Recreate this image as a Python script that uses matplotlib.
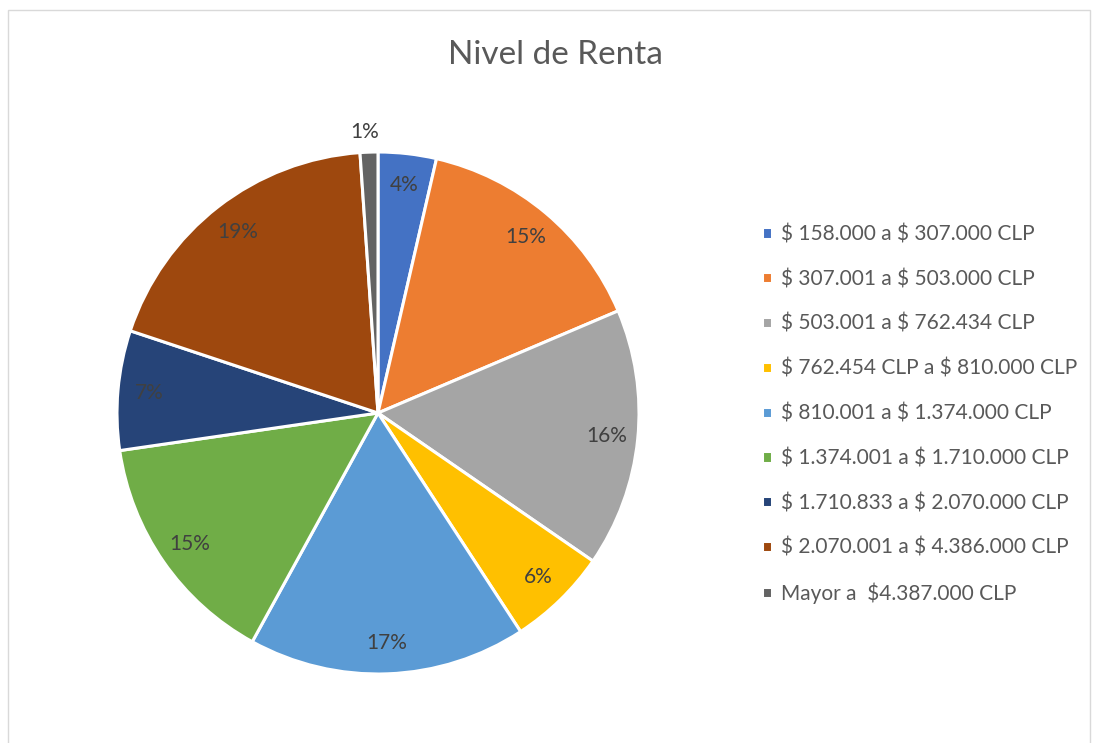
import matplotlib.pyplot as plt
from matplotlib.patches import Rectangle

# Data (percent shares)
categories = [
    "$ 158.000 a $ 307.000 CLP",
    "$ 307.001 a $ 503.000 CLP",
    "$ 503.001 a $ 762.434 CLP",
    "$ 762.454 CLP a $ 810.000 CLP",
    "$ 810.001 a $ 1.374.000 CLP",
    "$ 1.374.001 a $ 1.710.000 CLP",
    "$ 1.710.833 a $ 2.070.000 CLP",
    "$ 2.070.001 a $ 4.386.000 CLP",
    "Mayor a  $4.387.000 CLP",
]
shares = [3.6, 15.0, 16.0, 6.2, 17.2, 14.7, 7.4, 18.8, 1.1]
colors = ["#4472C4", "#ED7D31", "#A5A5A5", "#FFC000", "#5B9BD5",
          "#70AD47", "#264478", "#9E480E", "#636363"]

plt.rcParams['font.family'] = ['Lato', 'DejaVu Sans']
plt.rcParams['text.parse_math'] = False

W, H = 1093, 743
fig = plt.figure(figsize=(W / 100, H / 100), dpi=100)

# chart border
fig.patches.append(Rectangle((8 / W, -0.01), (1090 - 8) / W, (H - 10) / H + 0.01,
                             transform=fig.transFigure, fill=False,
                             edgecolor="#D9D9D9", linewidth=1))

cx, cy, r = 378, 413, 261
ax = fig.add_axes([(cx - r) / W, (H - cy - r) / H, 2 * r / W, 2 * r / H])

wedges, texts, autotexts = ax.pie(
    shares, colors=colors, startangle=90, counterclock=False,
    autopct="%.0f%%", pctdistance=0.88, radius=1,
    wedgeprops=dict(edgecolor="white", linewidth=2.2),
    textprops=dict(color="#404040", fontsize=15))

# smallest slice label sits outside the pie
autotexts[-1].set_position((-0.05, 1.075))

ax.set_xlim(-1, 1)
ax.set_ylim(-1, 1)
ax.set_aspect("equal")
ax.axis("off")

fig.text(555 / W, 1 - 55 / H, "Nivel de Renta", ha="center", va="center",
         fontsize=24, color="#595959")

fig.legend(wedges, categories, loc="upper left",
           bbox_to_anchor=(752 / W, 1 - 214 / H), frameon=False,
           fontsize=15, labelcolor="#595959",
           handlelength=0.45, handleheight=0.45, handletextpad=0.45,
           labelspacing=1.19, borderpad=0)

fig.savefig("out.png", dpi=100)
